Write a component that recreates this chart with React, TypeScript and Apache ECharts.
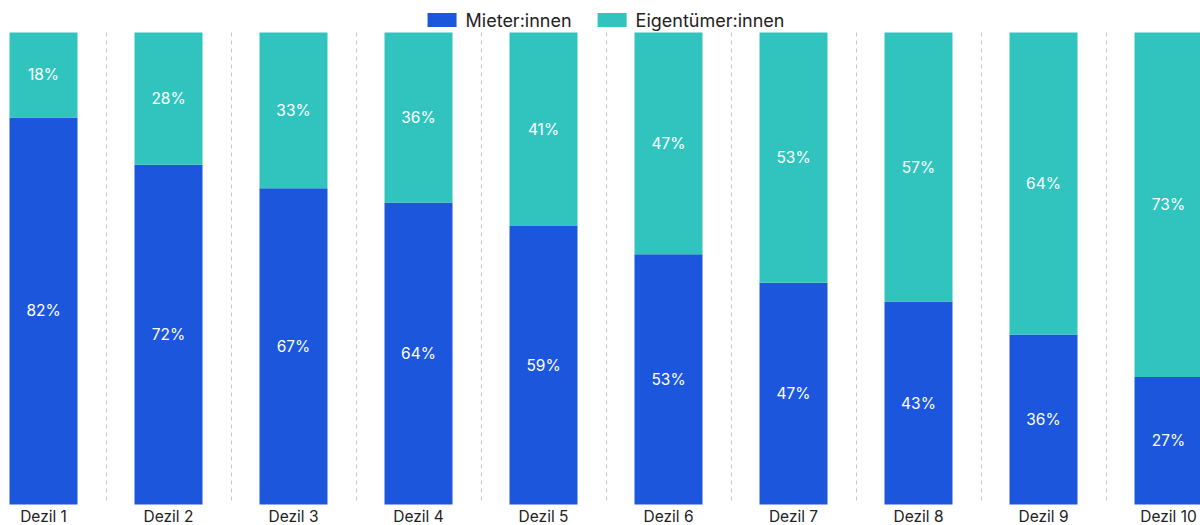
import React, { useEffect, useRef } from "react";
import * as echarts from "echarts";

const categories = ["Dezil 1", "Dezil 2", "Dezil 3", "Dezil 4", "Dezil 5", "Dezil 6", "Dezil 7", "Dezil 8", "Dezil 9", "Dezil 10"];
const mieter = [82, 72, 67, 64, 59, 53, 47, 43, 36, 27];
const eigentuemer = [18, 28, 33, 36, 41, 47, 53, 57, 64, 73];

const FONT = "Inter, 'Noto Sans', sans-serif";

export default function App() {
  const ref = useRef<HTMLDivElement>(null);
  useEffect(() => {
    if (!ref.current) return;
    const chart = echarts.init(ref.current, null, { renderer: "svg" });
    chart.setOption({
      animation: false,
      textStyle: { fontFamily: FONT },
      legend: {
        top: 6,
        left: "center",
        itemWidth: 29,
        itemHeight: 14,
        itemGap: 26,
        icon: "rect",
        textStyle: { fontSize: 18, color: "#222", fontFamily: FONT, padding: [0, 0, 0, 4] },
        data: ["Mieter:innen", "Eigentümer:innen"],
      },
      grid: { left: 0, right: 0, top: 32.5, bottom: 20.5, containLabel: false },
      xAxis: {
        type: "category",
        data: categories,
        axisLine: { show: false },
        axisTick: { show: false },
        axisLabel: { color: "#222", fontSize: 15.5, margin: 4, fontFamily: FONT },
        splitLine: { show: true, lineStyle: { color: "#c8c8c8", type: [4, 4], width: 1 } },
      },
      yAxis: { type: "value", min: 0, max: 100, show: false, splitLine: { show: false } },
      series: [
        {
          name: "Mieter:innen",
          type: "bar",
          stack: "total",
          data: mieter,
          barWidth: "54.4%",
          itemStyle: { color: "#1c56dc" },
          label: { show: true, position: "inside", formatter: "{c}%", color: "#fff", fontSize: 15.5, fontFamily: FONT },
        },
        {
          name: "Eigentümer:innen",
          type: "bar",
          stack: "total",
          data: eigentuemer,
          barWidth: "54.4%",
          itemStyle: { color: "#31c4bf" },
          label: { show: true, position: "inside", formatter: "{c}%", color: "#fff", fontSize: 15.5, fontFamily: FONT },
        },
      ],
    });
    return () => chart.dispose();
  }, []);
  return (
    <div style={{ position: "fixed", left: 0, top: 0, width: 1200, height: 525, overflow: "hidden", background: "#fff" }}>
      <div ref={ref} style={{ position: "absolute", left: -19, top: 0, width: 1250, height: 525 }} />
    </div>
  );
}
